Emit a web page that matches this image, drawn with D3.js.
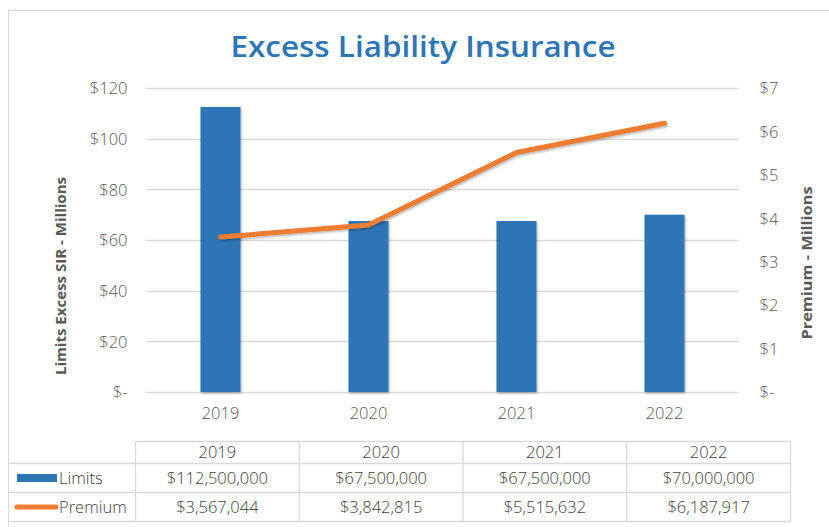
<!DOCTYPE html>
<html lang="en">
<meta charset="utf-8">
<title>Excess Liability Insurance</title>
<style>
  body { margin: 0; background: #fff; }
  svg { display: block; }
  text { font-family: "Open Sans", sans-serif; }
  .tick text { font-weight: 300; fill: #595959; font-size: 16.5px; }
  .axisTitle { font-weight: 700; fill: #595959; font-size: 14.5px; }
  .cell { font-weight: 300; fill: #404040; font-size: 16.5px; }
</style>
<body>
<div id="chart"></div>
<script src="https://cdn.jsdelivr.net/npm/d3@7/dist/d3.min.js"></script>
<script>
  // Values
  var years = ["2019", "2020", "2021", "2022"];
  var limits = [112500000, 67500000, 67500000, 70000000];
  var premium = [3567044, 3842815, 5515632, 6187917];
  var leftTicks = [0, 20, 40, 60, 80, 100, 120];
  var rightTicks = [0, 1, 2, 3, 4, 5, 6, 7];

  var W = 829, H = 527;
  var blue = "#2e75b6", orange = "#ed7d31", grid = "#d9d9d9";

  var svg = d3.select("#chart").append("svg").attr("width", W).attr("height", H);

  var defs = svg.append("defs");
  var f = defs.append("filter").attr("id", "shadow")
    .attr("x", "-20%").attr("y", "-20%").attr("width", "140%").attr("height", "140%");
  f.append("feDropShadow").attr("dx", 1).attr("dy", 1.5).attr("stdDeviation", 1.2)
    .attr("flood-color", "#000").attr("flood-opacity", 0.3);

  // chart area border (open on the right and bottom, as cropped)
  svg.append("path")
    .attr("d", "M8.5," + H + "V10.5H" + W)
    .attr("fill", "none").attr("stroke", "#d9d9d9").attr("stroke-width", 1);

  // title
  svg.append("text")
    .attr("x", 423).attr("y", 57)
    .attr("text-anchor", "middle")
    .attr("fill", blue)
    .style("font-size", "29px").style("font-weight", 600)
    .attr("textLength", 385).attr("lengthAdjust", "spacingAndGlyphs")
    .text("Excess Liability Insurance");

  var plot = { left: 146.5, right: 738.5, top: 88, bottom: 392 };

  var x = d3.scaleBand().domain(years).range([plot.left, plot.right]);
  var yL = d3.scaleLinear().domain([0, 120]).range([plot.bottom, plot.top]);
  var yR = d3.scaleLinear().domain([0, 7]).range([plot.bottom, plot.top]);

  var money = function (d) { return d === 0 ? "$-" : "$" + d; };

  // gridlines
  svg.append("g").selectAll("line").data(leftTicks).join("line")
    .attr("x1", plot.left).attr("x2", plot.right)
    .attr("y1", function (d) { return Math.round(yL(d)) + 0.5; })
    .attr("y2", function (d) { return Math.round(yL(d)) + 0.5; })
    .attr("stroke", grid).attr("stroke-width", 1.3);

  // left axis
  var gL = svg.append("g").attr("transform", "translate(" + (plot.left - 19) + ",0)")
    .call(d3.axisLeft(yL).tickValues(leftTicks).tickFormat(money).tickSize(0).tickPadding(0));
  gL.select(".domain").remove();
  gL.selectAll(".tick text").attr("dy", "0.35em");

  // right axis
  var gR = svg.append("g").attr("transform", "translate(" + (plot.right + 21) + ",0)")
    .call(d3.axisRight(yR).tickValues(rightTicks).tickFormat(money).tickSize(0).tickPadding(0));
  gR.select(".domain").remove();
  gR.selectAll(".tick text").attr("dy", "0.35em");

  // bottom axis
  var gB = svg.append("g").attr("transform", "translate(0," + (plot.bottom + 15) + ")")
    .call(d3.axisBottom(x).tickSize(0).tickPadding(0));
  gB.select(".domain").remove();
  gB.selectAll(".tick text").attr("dy", "0.71em");

  // axis titles
  svg.append("text").attr("class", "axisTitle")
    .attr("transform", "translate(66,276) rotate(-90)")
    .attr("text-anchor", "middle")
    .attr("textLength", 198).attr("lengthAdjust", "spacingAndGlyphs")
    .text("Limits Excess SIR - Millions");
  svg.append("text").attr("class", "axisTitle")
    .attr("transform", "translate(812,263) rotate(-90)")
    .attr("text-anchor", "middle")
    .attr("textLength", 153).attr("lengthAdjust", "spacingAndGlyphs")
    .text("Premium - Millions");

  // bars
  var bw = 40;
  svg.append("g").selectAll("rect").data(limits).join("rect")
    .attr("x", function (d, i) { return x(years[i]) + x.bandwidth() / 2 - bw / 2; })
    .attr("y", function (d) { return yL(d / 1e6); })
    .attr("width", bw)
    .attr("height", function (d) { return plot.bottom - yL(d / 1e6); })
    .attr("fill", blue)
    .attr("filter", "url(#shadow)");

  // premium line
  var line = d3.line()
    .x(function (d, i) { return x(years[i]) + x.bandwidth() / 2; })
    .y(function (d) { return yR(d / 1e6); });
  svg.append("path").datum(premium)
    .attr("d", line)
    .attr("fill", "none").attr("stroke", orange).attr("stroke-width", 5)
    .attr("stroke-linecap", "round").attr("stroke-linejoin", "round")
    .attr("filter", "url(#shadow)");

  // data table
  var tbl = { left: 8.5, first: 135.5, right: 790.5, rows: [441.5, 463.5, 492.5, 521.5] };
  var colX = d3.scaleBand().domain(years).range([tbl.first, tbl.right]);
  var tg = svg.append("g").attr("stroke", "#d9d9d9").attr("stroke-width", 1.3).attr("fill", "none");
  tg.append("line").attr("x1", tbl.first).attr("x2", tbl.right).attr("y1", tbl.rows[0]).attr("y2", tbl.rows[0]);
  tbl.rows.slice(1).forEach(function (ry) {
    tg.append("line").attr("x1", tbl.left).attr("x2", tbl.right).attr("y1", ry).attr("y2", ry);
  });
  years.concat(["end"]).forEach(function (yr, i) {
    var cx = i < years.length ? colX(yr) : tbl.right;
    tg.append("line").attr("x1", cx).attr("x2", cx).attr("y1", tbl.rows[0]).attr("y2", tbl.rows[3]);
  });

  var fmt = d3.format("$,");
  var rowMid = function (r) { return (tbl.rows[r] + tbl.rows[r + 1]) / 2; };
  var cellText = function (vals, r) {
    svg.append("g").selectAll("text").data(vals).join("text")
      .attr("class", "cell")
      .attr("x", function (d, i) { return colX(years[i]) + colX.bandwidth() / 2; })
      .attr("y", rowMid(r)).attr("dy", "0.35em")
      .attr("text-anchor", "middle")
      .text(function (d) { return typeof d === "number" ? fmt(d) : d; });
  };
  cellText(years, 0);
  cellText(limits, 1);
  cellText(premium, 2);

  // legend keys in first column
  svg.append("rect").attr("x", 17).attr("y", rowMid(1) - 4).attr("width", 40).attr("height", 8).attr("fill", blue);
  svg.append("text").attr("class", "cell").attr("x", 59).attr("y", rowMid(1)).attr("dy", "0.35em").text("Limits");
  svg.append("line").attr("x1", 17).attr("x2", 56).attr("y1", rowMid(2)).attr("y2", rowMid(2))
    .attr("stroke", orange).attr("stroke-width", 5).attr("stroke-linecap", "round");
  svg.append("text").attr("class", "cell").attr("x", 59).attr("y", rowMid(2)).attr("dy", "0.35em").text("Premium");
</script>
</body>
</html>
